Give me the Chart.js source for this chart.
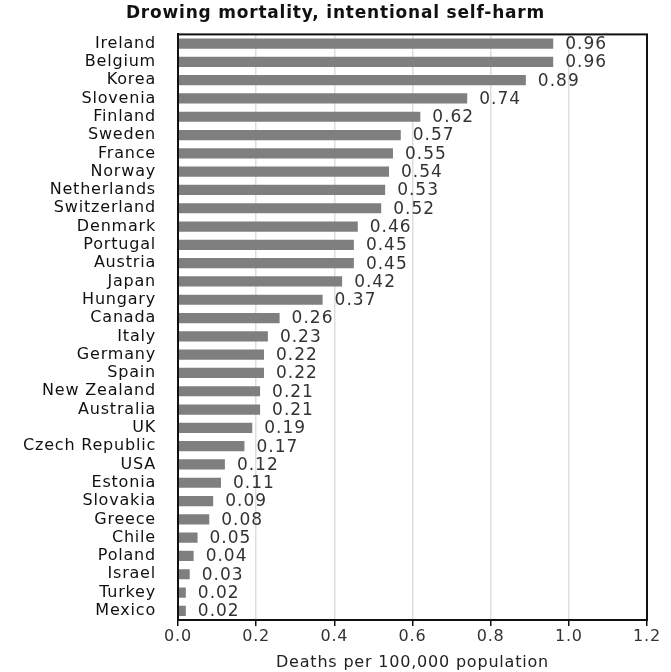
<!DOCTYPE html>
<html>
<head>
<meta charset="utf-8">
<script src="https://cdn.jsdelivr.net/npm/chart.js@4/dist/chart.umd.min.js"></script>
<style>
  html, body { margin: 0; padding: 0; background: #fff; }
  #wrap { width: 671px; height: 672px; }
</style>
</head>
<body>
<div id="wrap"><canvas id="chart"></canvas></div>
<script>
// data
const countries = [
  'Ireland', 'Belgium', 'Korea', 'Slovenia', 'Finland', 'Sweden', 'France', 'Norway',
  'Netherlands', 'Switzerland', 'Denmark', 'Portugal', 'Austria', 'Japan', 'Hungary',
  'Canada', 'Italy', 'Germany', 'Spain', 'New Zealand', 'Australia', 'UK',
  'Czech Republic', 'USA', 'Estonia', 'Slovakia', 'Greece', 'Chile', 'Poland',
  'Israel', 'Turkey', 'Mexico'
];
const deathRates = [
  0.96, 0.96, 0.89, 0.74, 0.62, 0.57, 0.55, 0.54,
  0.53, 0.52, 0.46, 0.45, 0.45, 0.42, 0.37,
  0.26, 0.23, 0.22, 0.22, 0.21, 0.21, 0.19,
  0.17, 0.12, 0.11, 0.09, 0.08, 0.05, 0.04,
  0.03, 0.02, 0.02
];
const xTicks = [0, 0.2, 0.4, 0.6, 0.8, 1.0, 1.2];

const FONT = '"DejaVu Sans", "Open Sans", sans-serif';

// the reference text is wide, so spread letters a little
const wideText = {
  id: 'wideText',
  beforeDraw(chart) { chart.ctx.letterSpacing = '0.8px'; },
};

// value labels at the end of each bar
const valueLabels = {
  id: 'valueLabels',
  afterDatasetsDraw(chart) {
    const ctx = chart.ctx;
    const meta = chart.getDatasetMeta(0);
    ctx.save();
    ctx.font = '17px ' + FONT;
    ctx.letterSpacing = '1px';
    ctx.fillStyle = '#333';
    ctx.textAlign = 'left';
    ctx.textBaseline = 'middle';
    meta.data.forEach((bar, i) => {
      ctx.fillText(deathRates[i].toFixed(2), bar.x + 12, bar.y + 1);
    });
    ctx.restore();
  }
};

// black frame round the plot area
const frame = {
  id: 'frame',
  afterDraw(chart) {
    const a = chart.chartArea;
    const ctx = chart.ctx;
    ctx.save();
    ctx.strokeStyle = '#111';
    ctx.lineWidth = 2;
    ctx.strokeRect(a.left, a.top, a.right - a.left, a.bottom - a.top);
    ctx.restore();
  }
};

new Chart(document.getElementById('chart'), {
  type: 'bar',
  data: {
    labels: countries,
    datasets: [{
      data: deathRates,
      backgroundColor: '#7f7f7f',
      barPercentage: 0.56,
      categoryPercentage: 1,
    }],
  },
  options: {
    indexAxis: 'y',
    responsive: true,
    maintainAspectRatio: false,
    animation: false,
    layout: { padding: { left: 24, right: 24, top: 0, bottom: 0 } },
    plugins: {
      legend: { display: false },
      tooltip: { enabled: false },
      title: {
        display: true,
        text: 'Drowing mortality, intentional self-harm',
        color: '#111',
        font: { family: FONT, size: 17, weight: 'bold' },
        padding: { top: 3, bottom: 11 },
      },
    },
    scales: {
      x: {
        min: 0,
        max: 1.2,
        afterBuildTicks: s => { s.ticks = xTicks.map(v => ({ value: v })); },
        afterFit: s => { s.height = 52; },
        grid: { color: '#dedede', tickColor: '#111', tickLength: 6, lineWidth: 1.5 },
        border: { color: '#111', width: 2 },
        ticks: {
          color: '#333',
          padding: 1,
          font: { family: FONT, size: 16 },
          callback: v => Number(v).toFixed(1),
        },
        title: {
          display: true,
          text: 'Deaths per 100,000 population',
          color: '#222',
          font: { family: FONT, size: 16 },
          padding: { top: 2, bottom: 0 },
        },
      },
      y: {
        afterFit: s => { s.width = 154; },
        grid: { display: false, drawTicks: false },
        border: { color: '#111', width: 2 },
        ticks: {
          color: '#111',
          padding: 22,
          autoSkip: false,
          font: { family: FONT, size: 16 },
        },
      },
    },
  },
  plugins: [wideText, valueLabels, frame],
});
</script>
</body>
</html>
